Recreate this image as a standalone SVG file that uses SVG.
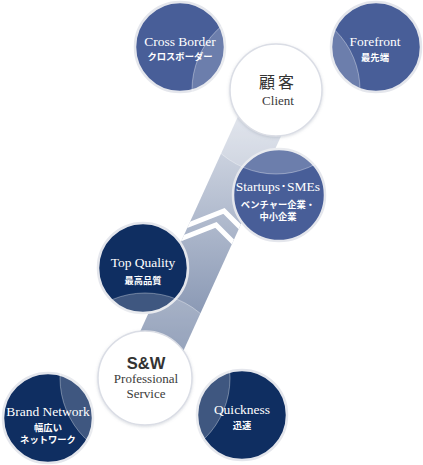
<svg xmlns="http://www.w3.org/2000/svg" width="423" height="465" viewBox="0 0 423 465">
<defs>
<style>
.blue{fill:#485e98;stroke:#e4e6ec;stroke-width:2.5}
.navy{fill:#0f2e61;stroke:#e4e6ec;stroke-width:2.5}
.white{fill:#fff;stroke:#dadde5;stroke-width:1.5}
.halo{fill:#fff;fill-opacity:0.2;stroke:#fff;stroke-opacity:0.35;stroke-width:1}
.en{font-family:"Liberation Serif","Times New Roman",serif;font-size:13.5px;fill:#fff;text-anchor:middle}
.jp{font-family:"Noto Sans CJK JP",sans-serif;font-size:9.3px;font-weight:bold;fill:#fff;text-anchor:middle}
.en-d{font-family:"Liberation Serif","Times New Roman",serif;font-size:13px;fill:#3a3a3a;text-anchor:middle}
.chev{fill:none;stroke:#fff;stroke-width:5}
</style>
<linearGradient id="bandGrad" x1="0" y1="120" x2="0" y2="340" gradientUnits="userSpaceOnUse">
<stop offset="0" stop-color="#d8dde7"/>
<stop offset="1" stop-color="#8090ae"/>
</linearGradient>
<clipPath id="bandClip"><polygon points="250,90 302,90 171,378 119,378"/></clipPath>
<filter id="sh" x="-20%" y="-20%" width="140%" height="140%">
<feDropShadow dx="0" dy="1" stdDeviation="1.5" flood-color="#7a8499" flood-opacity="0.3"/>
</filter>
</defs>

<g id="connectors">
<polygon points="250,90 302,90 171,378 119,378" fill="url(#bandGrad)"/>
<g clip-path="url(#bandClip)">
<polyline class="chev" points="173,231 224,211 259,246"/>
<polyline class="chev" points="165,245 216,225 251,260"/>
</g>
</g>

<g id="node-crossborder">
<circle class="blue" cx="180" cy="47" r="45"/>
</g>
<g id="node-forefront">
<circle class="blue" cx="376" cy="47" r="45"/>
</g>
<g id="node-startups">
<circle class="blue" cx="279" cy="195" r="46"/>
</g>
<g id="node-topquality">
<circle class="navy" cx="143" cy="268" r="45"/>
</g>
<g id="node-brandnetwork">
<circle class="navy" cx="48" cy="418" r="45"/>
</g>
<g id="node-quickness">
<circle class="navy" cx="242" cy="415" r="45"/>
</g>

<g id="halos">
<circle class="halo" cx="276" cy="90" r="84"/>
<circle class="halo" cx="145" cy="378" r="85"/>
</g>

<g id="labels-colored">
<text class="en" x="180" y="46">Cross Border</text>
<text class="jp" x="180" y="60">クロスボーダー</text>
<text class="en" x="375" y="46">Forefront</text>
<text class="jp" x="375" y="61">最先端</text>
<text class="en" x="278" y="191">Startups･SMEs</text>
<text class="jp" x="278" y="207.5">ベンチャー企業・</text>
<text class="jp" x="278" y="220">中小企業</text>
<text class="en" x="143" y="267">Top Quality</text>
<text class="jp" x="143" y="284">最高品質</text>
<text class="en" x="48" y="416">Brand Network</text>
<text class="jp" x="48" y="430.5">幅広い</text>
<text class="jp" x="48" y="443">ネットワーク</text>
<text class="en" x="242" y="414">Quickness</text>
<text class="jp" x="242" y="429">迅速</text>
</g>

<g id="node-client">
<circle class="white" cx="276" cy="90" r="46" filter="url(#sh)"/>
<text x="278" y="88" font-family="Noto Sans CJK JP, sans-serif" font-size="16" letter-spacing="3" fill="#333" text-anchor="middle">顧客</text>
<text class="en-d" x="278" y="105">Client</text>
</g>

<g id="node-sw">
<circle class="white" cx="145" cy="378" r="47" filter="url(#sh)"/>
<text x="146" y="369" font-family="Liberation Sans, Arial, sans-serif" font-size="16.5" font-weight="bold" fill="#333" text-anchor="middle">S&amp;W</text>
<text class="en-d" x="146" y="383" font-size="12.6">Professional</text>
<text class="en-d" x="146" y="397.5" font-size="12.6">Service</text>
</g>
</svg>
